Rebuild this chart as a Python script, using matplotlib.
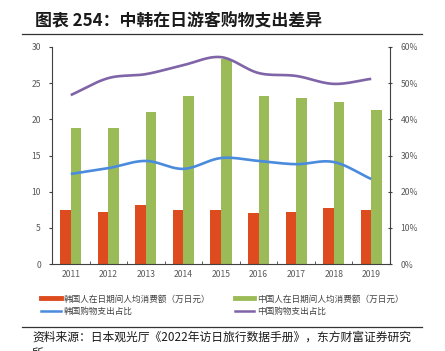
import matplotlib
matplotlib.use("Agg")
import matplotlib.pyplot as plt
from matplotlib.lines import Line2D
import numpy as np

plt.rcParams['font.family'] = ['Noto Sans CJK SC', 'DejaVu Sans']

years = ["2011", "2012", "2013", "2014", "2015", "2016", "2017", "2018", "2019"]
kr_spend = [7.5, 7.2, 8.1, 7.5, 7.5, 7.0, 7.2, 7.8, 7.5]
cn_spend = [18.8, 18.8, 21.0, 23.2, 28.3, 23.2, 23.0, 22.4, 21.3]
kr_share = [24.9, 26.5, 28.5, 26.3, 29.3, 28.5, 27.6, 28.2, 23.5]
cn_share = [46.7, 51.4, 52.5, 55.0, 57.2, 52.8, 52.0, 49.8, 51.2]

labels = ["韩国人在日期间人均消费额（万日元）", "中国人在日期间人均消费额（万日元）",
          "韩国购物支出占比", "中国购物支出占比"]

c_red = "#DD4B1E"
c_green = "#9BBB59"
c_blue = "#4A8BDD"
c_purple = "#8064A8"
c_tick = "#595959"

W, H = 445, 351
fig = plt.figure(figsize=(W / 100, H / 100), dpi=100)

def fx(px):
    return px / W

def fy(py):
    return 1 - py / H

ax = fig.add_axes([fx(52), fy(264), fx(390) - fx(52), fy(47) - fy(264)])
x = np.arange(len(years))
bw = 0.28
ax.bar(x - bw / 2, kr_spend, bw, color=c_red, edgecolor="none", zorder=2)
ax.bar(x + bw / 2, cn_spend, bw, color=c_green, edgecolor="none", zorder=2)
ax.set_xlim(-0.5, len(years) - 0.5)
ax.set_ylim(0, 30)
ax.set_yticks(range(0, 31, 5))
ax.set_xticks(x)
ax.set_xticklabels(years)
ax.set_xticks(np.arange(0.5, len(years) - 0.5, 1), minor=True)
ax.tick_params(axis='x', which='major', length=0, labelsize=6.2, colors=c_tick, pad=4)
ax.tick_params(axis='x', which='minor', length=2, direction='in', color="#404040")
ax.tick_params(axis='y', labelsize=6.2, colors=c_tick, length=2, direction='out', color="#404040", pad=6)
for s in ["top", "right"]:
    ax.spines[s].set_visible(False)
ax.spines["left"].set_color("#404040")
ax.spines["bottom"].set_color("#404040")
ax.spines["left"].set_linewidth(0.8)
ax.spines["bottom"].set_linewidth(0.8)

ax2 = ax.twinx()
ax2.set_ylim(0, 60)
ax2.set_yticks(range(0, 61, 10))
ax2.set_yticklabels([f"{v}%" for v in range(0, 61, 10)])
ax2.tick_params(axis='y', labelsize=6.2, colors=c_tick, length=3, direction='inout', color="#404040", pad=6)
for s in ["top", "left", "bottom"]:
    ax2.spines[s].set_visible(False)
ax2.spines["right"].set_color("#404040")
ax2.spines["right"].set_linewidth(0.8)


def smooth(xs, ys, n=20):
    xs = np.asarray(xs, float)
    ys = np.asarray(ys, float)
    m = np.zeros_like(ys)
    m[1:-1] = (ys[2:] - ys[:-2]) / 2
    m[0] = ys[1] - ys[0]
    m[-1] = ys[-1] - ys[-2]
    ox, oy = [], []
    for i in range(len(xs) - 1):
        t = np.linspace(0, 1, n, endpoint=False)
        h00 = 2 * t**3 - 3 * t**2 + 1
        h10 = t**3 - 2 * t**2 + t
        h01 = -2 * t**3 + 3 * t**2
        h11 = t**3 - t**2
        oy.extend(h00 * ys[i] + h10 * m[i] + h01 * ys[i + 1] + h11 * m[i + 1])
        ox.extend(xs[i] + t * (xs[i + 1] - xs[i]))
    ox.append(xs[-1])
    oy.append(ys[-1])
    return ox, oy

sx, sy = smooth(x, kr_share)
ax2.plot(sx, sy, color=c_blue, lw=1.9, solid_capstyle='butt', zorder=3)
sx, sy = smooth(x, cn_share)
ax2.plot(sx, sy, color=c_purple, lw=1.9, solid_capstyle='butt', zorder=3)

# title
fig.text(fx(35), fy(21), "图表 254：中韩在日游客购物支出差异", fontsize=12.2,
         fontweight='bold', va='center', ha='left', color="#1a1a1a")
fig.add_artist(Line2D([fx(22), fx(422)], [fy(34), fy(34)], color="#333333", lw=0.9))

# legend
handles = [Line2D([], [], color=c_red, lw=3.5),
           Line2D([], [], color=c_blue, lw=1.8),
           Line2D([], [], color=c_green, lw=3.5),
           Line2D([], [], color=c_purple, lw=1.8)]
leg_labels = [labels[0], labels[2], labels[1], labels[3]]
fig.legend(handles, leg_labels, ncol=2, loc='upper left',
           bbox_to_anchor=(fx(38), fy(291)), frameon=False,
           fontsize=6.2, handlelength=2.3, handletextpad=0.3,
           columnspacing=2.8, labelspacing=0.45, borderaxespad=0,
           labelcolor="#404040")

# footer
fig.add_artist(Line2D([fx(22), fx(422)], [fy(327), fy(327)], color="#333333", lw=0.9))
fig.text(fx(32), fy(337), "资料来源：日本观光厅《2022年访日旅行数据手册》，东方财富证券研究",
         fontsize=8.5, va='center', ha='left', color="#1a1a1a")
fig.text(fx(32), fy(353), "所", fontsize=8.5, va='center', ha='left', color="#1a1a1a")

fig.savefig("out.png", dpi=100)
